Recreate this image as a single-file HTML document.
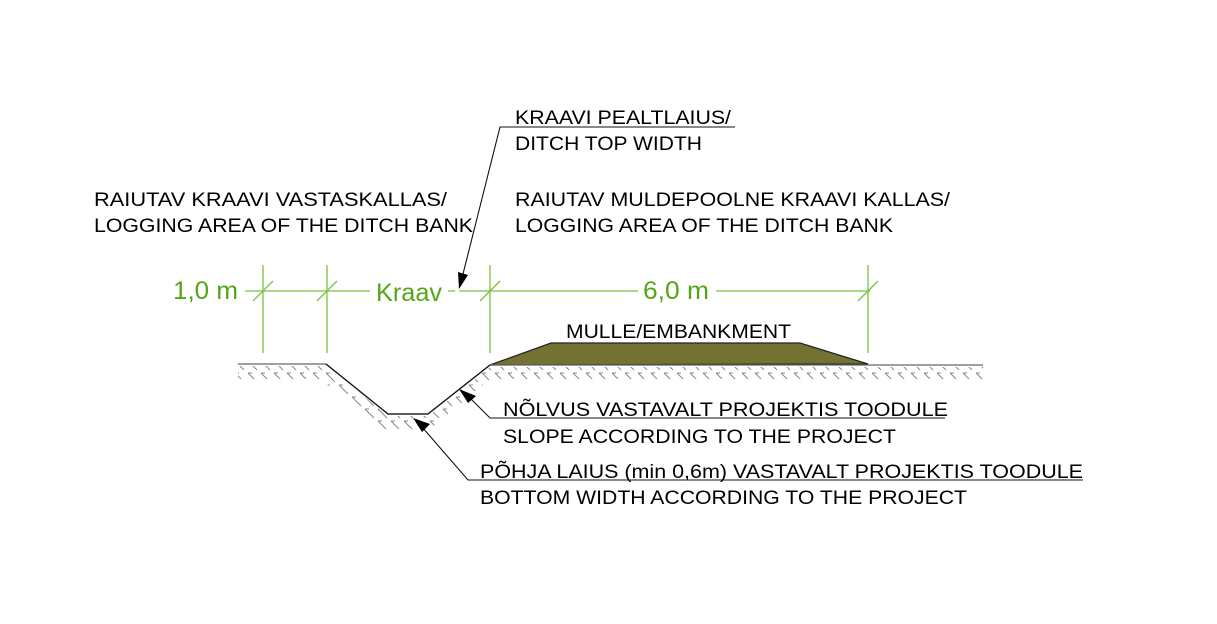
<!DOCTYPE html>
<html><head><style>html,body{margin:0;background:#fff}svg{display:block}text{font-family:"Liberation Sans",sans-serif}</style></head><body>
<svg width="1217" height="624" viewBox="0 0 1217 624" xmlns="http://www.w3.org/2000/svg">
<defs>
<pattern id="h" width="13" height="12" patternUnits="userSpaceOnUse">
<line x1="1" y1="1" x2="10" y2="10" stroke="#888" stroke-width="1"/>
<line x1="1" y1="1" x2="5" y2="1" stroke="#888" stroke-width="1"/>
</pattern>
<clipPath id="c"><polygon points="238,366 326,366 388,416 428,416 490,367 983,367 983,379 490,379 430,429 385,429 320,379 238,379"/></clipPath>
</defs>
<rect x="230" y="360" width="760" height="75" fill="url(#h)" clip-path="url(#c)"/>
<polygon points="490,365 551,343 800,343 868,364" fill="#747232" stroke="#222" stroke-width="1.2"/>
<polyline points="238,364 326,364 388,414 428,414 490,365 983,365" fill="none" stroke="#666" stroke-width="1.3"/>
<polyline points="326,364 388,414 428,414 490,365" fill="none" stroke="#111" stroke-width="1.2"/>
<g stroke="#7bc142" stroke-width="1.3">
<line x1="263" y1="265" x2="263" y2="353"/><line x1="327" y1="265" x2="327" y2="353"/>
<line x1="490" y1="265" x2="490" y2="353"/><line x1="868" y1="265" x2="868" y2="353"/>
<line x1="245" y1="291" x2="370" y2="291"/><line x1="448" y1="291" x2="455" y2="291"/><line x1="459" y1="291" x2="638" y2="291"/><line x1="716" y1="291" x2="870" y2="291"/>
<line x1="253" y1="301" x2="273" y2="281"/><line x1="317" y1="301" x2="337" y2="281"/><line x1="480" y1="301" x2="500" y2="281"/><line x1="858" y1="301" x2="878" y2="281"/>
</g>
<g fill="#55a518" font-size="25">
<text x="173" y="299" textLength="65" lengthAdjust="spacingAndGlyphs">1,0 m</text><text x="376" y="301" textLength="66" lengthAdjust="spacingAndGlyphs">Kraav</text><text x="643" y="299" textLength="66" lengthAdjust="spacingAndGlyphs">6,0 m</text>
</g>
<g stroke="#111" stroke-width="1.1" fill="none">
<polyline points="735,127 500,127 462,278"/>
<polyline points="945,418 490,418 468,396"/>
<polyline points="1083,480 468,480 422,427"/>
</g>
<polygon points="459,289 458,272 468,275" fill="#000"/>
<polygon points="459,389 476,396 468,403" fill="#000"/>
<polygon points="413,418 430,424 422,432" fill="#000"/>
<g fill="#000" font-size="19" lengthAdjust="spacingAndGlyphs">
<text x="515" y="124" textLength="216" lengthAdjust="spacingAndGlyphs">KRAAVI PEALTLAIUS/</text>
<text x="515" y="150" textLength="187" lengthAdjust="spacingAndGlyphs">DITCH TOP WIDTH</text>
<text x="94" y="206" textLength="353" lengthAdjust="spacingAndGlyphs">RAIUTAV KRAAVI VASTASKALLAS/</text>
<text x="94" y="232" textLength="379" lengthAdjust="spacingAndGlyphs">LOGGING AREA OF THE DITCH BANK</text>
<text x="515" y="206" textLength="435" lengthAdjust="spacingAndGlyphs">RAIUTAV MULDEPOOLNE KRAAVI KALLAS/</text>
<text x="515" y="232" textLength="378" lengthAdjust="spacingAndGlyphs">LOGGING AREA OF THE DITCH BANK</text>
<text x="566" y="338" textLength="225" lengthAdjust="spacingAndGlyphs">MULLE/EMBANKMENT</text>
<text x="503" y="416" textLength="445" lengthAdjust="spacingAndGlyphs">NÕLVUS VASTAVALT PROJEKTIS TOODULE</text>
<text x="503" y="443" textLength="393" lengthAdjust="spacingAndGlyphs">SLOPE ACCORDING TO THE PROJECT</text>
<text x="480" y="478" textLength="603" lengthAdjust="spacingAndGlyphs">PÕHJA LAIUS (min 0,6m) VASTAVALT PROJEKTIS TOODULE</text>
<text x="480" y="504" textLength="487" lengthAdjust="spacingAndGlyphs">BOTTOM WIDTH ACCORDING TO THE PROJECT</text>
</g>
</svg>
</body></html>
